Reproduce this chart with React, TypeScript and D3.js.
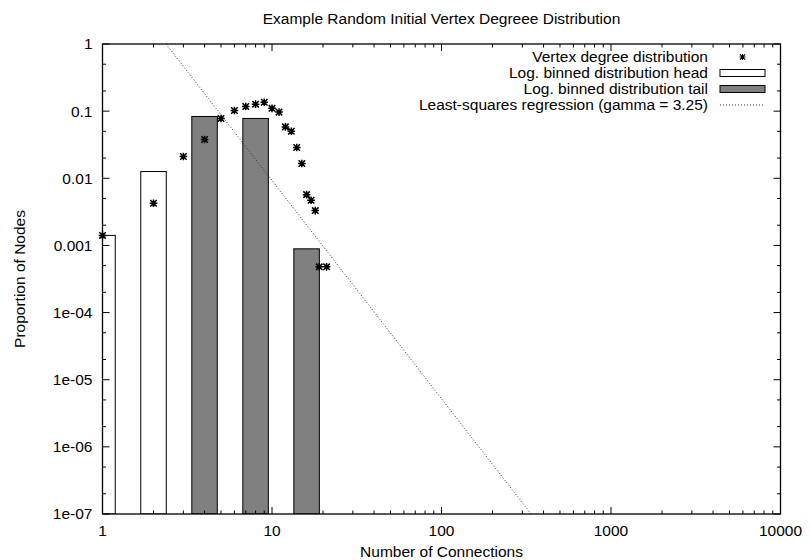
import * as d3 from 'd3';

// vertex degree distribution (proportion of nodes with k connections)
const degrees = [1, 2, 3, 4, 5, 6, 7, 8, 9, 10, 11, 12, 13, 14, 15, 16, 17, 18, 19, 21];
const proportions = [
  0.00141, 0.00424, 0.0211, 0.0378, 0.0778, 0.102, 0.1175, 0.127, 0.136, 0.11,
  0.0967, 0.0583, 0.0503, 0.0287, 0.0166, 0.00571, 0.0047, 0.0033, 0.00048, 0.00048,
];

// log-binned distribution (bin centres, powers of two)
const headBins = [1, 2];
const headValues = [0.00141, 0.0126];
const tailBins = [4, 8, 16];
const tailValues = [0.0833, 0.0778, 0.00089];

// least-squares fit  p(k) = C * k^-gamma
const gamma = 3.25;
const fitC = 16.5;

const xTicks = [1, 10, 100, 1000, 10000];
const xTickLabels = ['1', '10', '100', '1000', '10000'];
const yTicks = [1, 0.1, 0.01, 0.001, 1e-4, 1e-5, 1e-6, 1e-7];
const yTickLabels = ['1', '0.1', '0.01', '0.001', '1e-04', '1e-05', '1e-06', '1e-07'];

const legendLabels = [
  'Vertex degree distribution',
  'Log. binned distribution head',
  'Log. binned distribution tail',
  'Least-squares regression (gamma = 3.25)',
];

const W = 810;
const H = 560;
const M = { top: 44, right: 29.5, bottom: 46, left: 102.5 };
const FONT = '"Liberation Sans", Arial, Helvetica, sans-serif';
const FS = 15.5;

const starPath = (x: number, y: number, r = 3.8) => {
  const d = r * 0.85;
  return `M${x - r},${y}h${2 * r}M${x},${y - r}v${2 * r}M${x - d},${y - d}l${2 * d},${2 * d}M${x - d},${y + d}l${2 * d},${-2 * d}`;
};

export default function App() {
  const x = d3.scaleLog().domain([1, 10000]).range([M.left, W - M.right]);
  const y = d3.scaleLog().domain([1e-7, 1]).range([H - M.bottom, M.top]);
  const x0 = M.left;
  const x1 = W - M.right;
  const y0 = H - M.bottom;
  const y1 = M.top;

  const half = Math.pow(2, 0.25);
  const bar = (c: number, v: number, fill: string, key: string) => {
    const left = x(c / half);
    const right = x(c * half);
    return (
      <rect
        key={key}
        x={left}
        y={y(v)}
        width={right - left}
        height={y0 - y(v)}
        fill={fill}
        stroke="#000"
        strokeWidth={1}
      />
    );
  };

  // minor ticks
  const xMinor: number[] = [];
  for (let e = 0; e < 4; e++) for (let m = 2; m <= 9; m++) xMinor.push(m * Math.pow(10, e));
  const yMinor: number[] = [];
  for (let e = -7; e < 0; e++) for (const m of [2, 5]) yMinor.push(m * Math.pow(10, e));

  const fit = (k: number) => fitC * Math.pow(k, -gamma);
  const kTop = Math.pow(fitC, 1 / gamma);
  const kBot = Math.pow(fitC / 1e-7, 1 / gamma);
  const fitLine = d3.line<number>().x((k) => x(k)).y((k) => y(fit(k)))([kTop, kBot]);

  const legX = 708;
  const legS0 = 720;
  const legS1 = 765;
  const legY = (i: number) => 57 + i * 16;

  return (
    <svg
      width={W}
      height={H}
      style={{ position: 'absolute', left: 0, top: 0, background: '#fff' }}
      fontFamily={FONT}
      fontSize={FS}
    >
      <defs>
        <clipPath id="plot">
          <rect x={x0} y={y1} width={x1 - x0} height={y0 - y1} />
        </clipPath>
      </defs>

      <text x={(x0 + x1) / 2} y={24} textAnchor="middle">
        Example Random Initial Vertex Degreee Distribution
      </text>

      <g clipPath="url(#plot)">
        {headBins.map((c, i) => bar(c, headValues[i], '#fff', 'h' + i))}
        {tailBins.map((c, i) => bar(c, tailValues[i], '#808080', 't' + i))}
        <path d={fitLine || ''} fill="none" stroke="#333" strokeWidth={1} strokeDasharray="1,2" />
      </g>

      {/* ticks */}
      <g stroke="#000" strokeWidth={1}>
        {xTicks.map((t) => (
          <g key={'xt' + t}>
            <line x1={x(t)} x2={x(t)} y1={y0} y2={y0 - 7} />
            <line x1={x(t)} x2={x(t)} y1={y1} y2={y1 + 7} />
          </g>
        ))}
        {xMinor.map((t) => (
          <g key={'xm' + t}>
            <line x1={x(t)} x2={x(t)} y1={y0} y2={y0 - 3.5} />
            <line x1={x(t)} x2={x(t)} y1={y1} y2={y1 + 3.5} />
          </g>
        ))}
        {yTicks.map((t) => (
          <g key={'yt' + t}>
            <line x1={x0} x2={x0 + 7} y1={y(t)} y2={y(t)} />
            <line x1={x1} x2={x1 - 7} y1={y(t)} y2={y(t)} />
          </g>
        ))}
        {yMinor.map((t) => (
          <g key={'ym' + t}>
            <line x1={x0} x2={x0 + 3.5} y1={y(t)} y2={y(t)} />
            <line x1={x1} x2={x1 - 3.5} y1={y(t)} y2={y(t)} />
          </g>
        ))}
      </g>

      <rect x={x0} y={y1} width={x1 - x0} height={y0 - y1} fill="none" stroke="#000" strokeWidth={1.3} />

      {degrees.map((k, i) => (
        <path key={k} d={starPath(x(k), y(proportions[i]))} stroke="#000" strokeWidth={1.5} fill="none" />
      ))}

      {xTicks.map((t, i) => (
        <text key={'xl' + t} x={x(t)} y={y0 + 22} textAnchor="middle">
          {xTickLabels[i]}
        </text>
      ))}
      {yTicks.map((t, i) => (
        <text key={'yl' + t} x={x0 - 10} y={y(t)} dy="0.35em" textAnchor="end">
          {yTickLabels[i]}
        </text>
      ))}

      <text x={(x0 + x1) / 2} y={557} textAnchor="middle">
        Number of Connections
      </text>
      <text transform={`translate(25,${(y0 + y1) / 2}) rotate(-90)`} textAnchor="middle">
        Proportion of Nodes
      </text>

      {/* legend */}
      {legendLabels.map((l, i) => (
        <text key={l} x={legX} y={legY(i)} dy="0.35em" textAnchor="end">
          {l}
        </text>
      ))}
      <path d={starPath((legS0 + legS1) / 2, legY(0), 3)} stroke="#000" strokeWidth={1.2} fill="none" />
      <rect x={legS0} y={legY(1) - 3.5} width={legS1 - legS0} height={7} fill="#fff" stroke="#000" />
      <rect x={legS0} y={legY(2) - 3.5} width={legS1 - legS0} height={7} fill="#808080" stroke="#000" />
      <line x1={legS0} x2={legS1} y1={legY(3)} y2={legY(3)} stroke="#333" strokeDasharray="1,2" />
    </svg>
  );
}
